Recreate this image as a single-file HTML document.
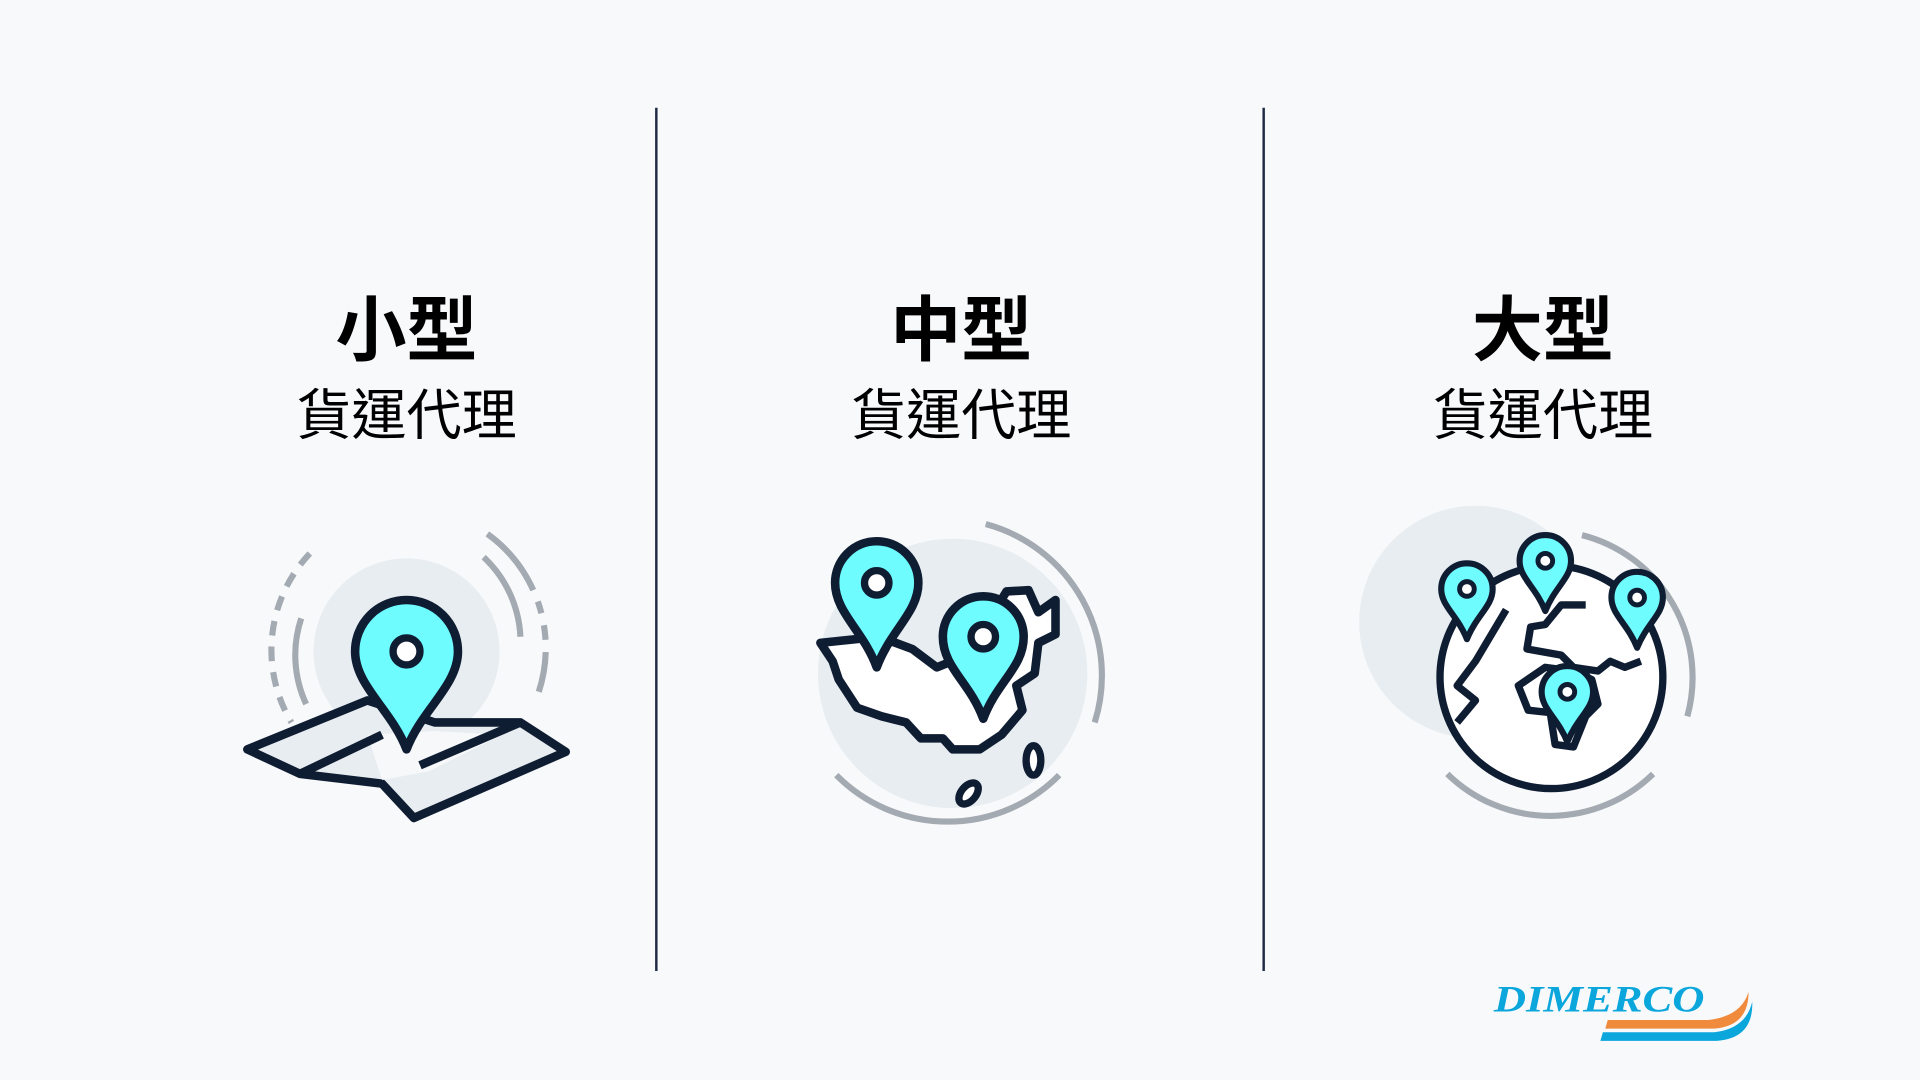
<!DOCTYPE html>
<html><head><meta charset="utf-8"><style>
html,body{margin:0;padding:0;background:#f8f9fb;}
svg{display:block}
</style></head><body>
<svg width="1920" height="1080" viewBox="0 0 1568 882" xmlns="http://www.w3.org/2000/svg">
<rect width="1568" height="882" fill="#f8f9fb"/>
<line x1="536" y1="88" x2="536" y2="793" stroke="#1e2a44" stroke-width="2"/>
<line x1="1032" y1="88" x2="1032" y2="793" stroke="#1e2a44" stroke-width="2"/>

<g text-anchor="middle" fill="#000" style="font-family:'Liberation Sans','Noto Sans CJK TC','Noto Sans CJK SC',sans-serif">
<text x="332" y="290" font-size="58" font-weight="700">小型</text>
<text x="785" y="290" font-size="58" font-weight="700">中型</text>
<text x="1260" y="290" font-size="58" font-weight="700">大型</text>
<text x="332" y="355" font-size="45">貨運代理</text>
<text x="785" y="355" font-size="45">貨運代理</text>
<text x="1260" y="355" font-size="45">貨運代理</text>
</g>

<!-- Icon 1 -->
<g stroke-linejoin="round">
<circle cx="332" cy="532" r="76" fill="#e8edf1"/>
<g fill="none" stroke="#a4aab2" stroke-width="5">
<path d="M253 452 A115 115 0 0 0 238 590" stroke-dasharray="12 9"/>
<path d="M246 505 A95 95 0 0 0 250 575" />
<path d="M398 436 A115 115 0 0 1 440 565" stroke-dasharray="60 10 10 10 12 10"/>
<path d="M395 455 A95 95 0 0 1 425 520"/>
</g>
<polygon points="202,612 300,572 355,590 425,590 462,614 338,668 312,640 245,632" fill="#e8edf1" stroke="#0f1d33" stroke-width="7"/>
<polygon points="300,600 355,597 410,600 350,630 312,637" fill="#f6f8fa"/>
<line x1="245" y1="632" x2="312" y2="600" stroke="#0f1d33" stroke-width="7"/>
<line x1="343" y1="625" x2="425" y2="590" stroke="#0f1d33" stroke-width="7"/>
<path d="M332 612 C320 580 290 560 290 532 A42 42 0 1 1 374 532 C374 560 344 580 332 612 Z" fill="#6ffcff" stroke="#0f1d33" stroke-width="7"/>
<circle cx="332" cy="532" r="11" fill="#fff" stroke="#0f1d33" stroke-width="6"/>
</g>

<!-- Icon 2 -->
<g stroke-linejoin="round">
<circle cx="778" cy="550" r="110" fill="#e8edf1"/>
<g fill="none" stroke="#a4aab2" stroke-width="5">
<path d="M805 428 A128 128 0 0 1 894 590"/>
<path d="M683 633 A128 128 0 0 0 865 633"/>
</g>
<path d="M670 525 L718 520 L745 530 L765 545 L790 535 L822 483 L840 482 L848 500 L862 490 L862 518 L848 525 L845 550 L830 560 L835 580 L818 600 L800 612 L778 612 L770 603 L752 603 L740 590 L720 585 L700 578 L685 555 L680 540 Z" fill="#fff" stroke="#0f1d33" stroke-width="7"/>
<ellipse cx="844" cy="621" rx="6" ry="12" fill="#fff" stroke="#0f1d33" stroke-width="6"/>
<ellipse cx="791" cy="648" rx="6" ry="10" transform="rotate(40 791 648)" fill="#fff" stroke="#0f1d33" stroke-width="6"/>
<path d="M716 545 C705 515 682 500 682 476 A34 34 0 1 1 750 476 C750 500 727 515 716 545 Z" fill="#6ffcff" stroke="#0f1d33" stroke-width="7"/>
<circle cx="716" cy="476" r="10" fill="#fff" stroke="#0f1d33" stroke-width="6"/>
<path d="M803 587 C792 557 770 545 770 520 A33 33 0 1 1 836 520 C836 545 814 557 803 587 Z" fill="#6ffcff" stroke="#0f1d33" stroke-width="7"/>
<circle cx="803" cy="520" r="10" fill="#fff" stroke="#0f1d33" stroke-width="6"/>
</g>

<!-- Icon 3 -->
<g stroke-linejoin="round">
<circle cx="1205" cy="508" r="95" fill="#e8edf1"/>
<g fill="none" stroke="#a4aab2" stroke-width="5">
<path d="M1292 437 A120 120 0 0 1 1378 585"/>
<path d="M1182 632 A120 120 0 0 0 1350 632"/>
</g>
<circle cx="1267" cy="553" r="91" fill="#fff" stroke="#0f1d33" stroke-width="6"/>
<path d="M1230 498 L1205 540 L1190 560 L1205 572 L1190 590" fill="none" stroke="#0f1d33" stroke-width="6"/>
<path d="M1295 494 L1275 494 L1262 510 L1250 512 L1247 530 L1275 535 L1285 545 L1305 548 L1315 540 L1327 545 L1340 540" fill="none" stroke="#0f1d33" stroke-width="6"/>
<path d="M1262 545 L1240 560 L1248 580 L1266 582 L1270 608 L1285 610 L1295 585 L1305 575 L1300 555 L1285 548 Z" fill="#fff" stroke="#0f1d33" stroke-width="6"/>
<g>
<path d="M1198 522 C1190 502 1177 495 1177 481 A21 21 0 1 1 1219 481 C1219 495 1206 502 1198 522 Z" fill="#6ffcff" stroke="#0f1d33" stroke-width="5"/>
<circle cx="1198" cy="481" r="6" fill="#fff" stroke="#0f1d33" stroke-width="4"/>
<path d="M1262 499 C1254 479 1241 472 1241 458 A21 21 0 1 1 1283 458 C1283 472 1270 479 1262 499 Z" fill="#6ffcff" stroke="#0f1d33" stroke-width="5"/>
<circle cx="1262" cy="458" r="6" fill="#fff" stroke="#0f1d33" stroke-width="4"/>
<path d="M1337 529 C1329 509 1316 502 1316 488 A21 21 0 1 1 1358 488 C1358 502 1345 509 1337 529 Z" fill="#6ffcff" stroke="#0f1d33" stroke-width="5"/>
<circle cx="1337" cy="488" r="6" fill="#fff" stroke="#0f1d33" stroke-width="4"/>
<path d="M1280 606 C1272 586 1259 579 1259 565 A21 21 0 1 1 1301 565 C1301 579 1288 586 1280 606 Z" fill="#6ffcff" stroke="#0f1d33" stroke-width="5"/>
<circle cx="1280" cy="565" r="6" fill="#fff" stroke="#0f1d33" stroke-width="4"/>
</g>
</g>

<!-- Logo -->
<text x="1220" y="826" textLength="172" lengthAdjust="spacingAndGlyphs" style="font-family:'Liberation Serif',serif;font-size:30px;font-weight:700;font-style:italic" fill="#0aa6dc">DIMERCO</text>
<path d="M1313 833 L1395 833 Q1422 830 1428 810 Q1428 838 1400 840 L1311 840 Z" fill="#f08a3c"/>
<path d="M1309 843 L1400 843 Q1426 840 1431 818 Q1432 848 1402 850 L1307 850 Z" fill="#0aa6dc"/>
</svg>
</body></html>
